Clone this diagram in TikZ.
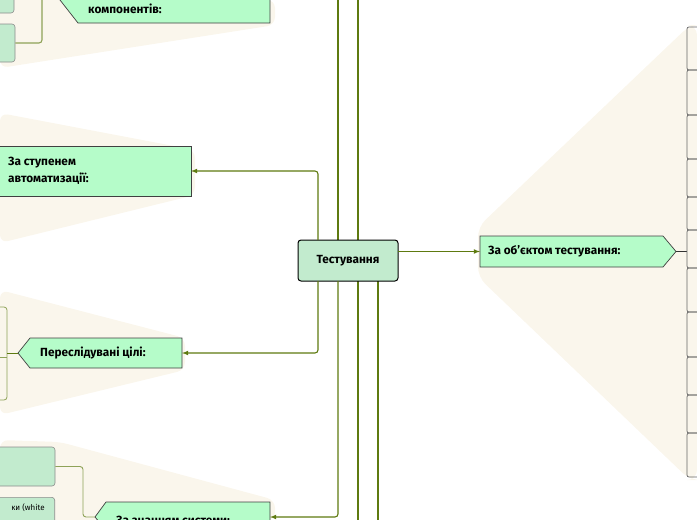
\documentclass[tikz,border=0pt]{standalone}
\usepackage{fontspec}
\setmainfont{Fira Sans}
\begin{document}
\begin{tikzpicture}[x=1pt,y=-1pt,
  conn/.style={draw=green!35!black!80!olive, line width=1.1pt, rounded corners=3pt},
  arr/.style={conn,-latex},
  sub/.style={draw=black!75, fill=grn, line width=0.7pt},
  leaf/.style={draw=black!45, fill=lgrn, rounded corners=3pt, line width=0.6pt},
  lbl/.style={font=\fontseries{sb}\fontsize{11.8}{17}\selectfont, anchor=west, align=left, inner sep=0pt}]
\definecolor{ol}{HTML}{5E7A10}
\definecolor{grn}{HTML}{B5FCC9}
\definecolor{lgrn}{HTML}{C2EBCE}
\definecolor{bg}{HTML}{FAF6EC}
\tikzset{conn/.append style={draw=ol}}
\useasboundingbox (0,0) rectangle (697,520);
% background fans
\fill[bg, rounded corners=8pt] (0,0) -- (275,0) -- (275,25) -- (0,68) -- cycle;
\fill[bg, rounded corners=8pt] (0,113) -- (195,150) -- (195,195) -- (0,243) -- cycle;
\fill[bg, rounded corners=8pt] (0,290) -- (185,338) -- (185,370) -- (0,415) -- cycle;
\fill[bg, rounded corners=8pt] (0,440) -- (60,442) -- (275,500) -- (275,520) -- (0,520) -- cycle;
\fill[bg, rounded corners=10pt] (478,227) -- (690,25) -- (697,25) -- (697,480) -- (690,480) -- (478,277) -- cycle;
% vertical lines passing up/down
\coordinate (t1) at (338,0); \coordinate (t2) at (358,0);
\coordinate (b3) at (358,520); \coordinate (b4) at (378,520);
\draw[conn] (t1) -- (338,240);
\draw[conn] (t2) -- (358,240);
\draw[conn] (358,281) -- (b3);
\draw[conn] (378,281) -- (b4);
% center
\node[draw=black, line width=1pt, fill=lgrn, rounded corners=3pt, minimum width=100pt, minimum height=41pt, font=\fontseries{sb}\fontsize{11.8}{14}\selectfont] (c) at (348,260.5) {Тестування};
% right
\path[sub] (480,236) -- (663,236) -- (676,251.5) -- (663,267) -- (480,267) -- cycle;
\node[lbl] (obj) at (488,251.5) {За об’єктом тестування:};
\coordinate (objL) at (480,251.5); \coordinate (objR) at (676,251.5);
\coordinate (cR) at (398,251.5);
\draw[arr] (cR) -- (objL);
\draw[draw=black!80, line width=1pt] (objR) -- (687,251.5);
\foreach \a/\b in {27/70,70/115,115/159,159/197,197/230,230/268,268/312,312/357,357/395,395/433,433/477}{
  \draw[draw=black!60, line width=0.7pt, rounded corners=2pt] (700,\a) -- (687,\a) -- (687,\b) -- (700,\b);
}
% top-left
\path[sub] (60,-5) -- (270,-5) -- (270,23) -- (78,23) -- (60,0) -- cycle;
\node[lbl] (komp) at (88,9) {компонентів:};
\node[leaf, minimum width=20pt, minimum height=16pt] (k1) at (4,5) {};
\node[leaf, minimum width=30pt, minimum height=38pt] (k2) at (0,43) {};
\draw[conn, draw=ol!70] (k2.east) -| (42,0);
% automation
\path[sub] (-2,146) -- (191,146) -- (191,196) -- (-2,196) -- cycle;
\node[lbl] (aut) at (8,171) {За ступенем\\автоматизації:};
\coordinate (autR) at (191,171);
\draw[arr] (318,240) |- (autR);
% goals
\path[sub] (18,353) -- (30,338) -- (182,338) -- (182,368) -- (30,368) -- cycle;
\node[lbl] (goal) at (40,353) {Переслідувані цілі:};
\coordinate (goalR) at (182,353);
\draw[arr] (318,281) |- (goalR);
\draw[draw=ol!70, line width=0.8pt, rounded corners=3pt] (-5,307) -- (7,307) -- (7,400) -- (-5,400);
\draw[draw=ol!70, line width=0.8pt] (-5,357) -- (7,357);
\draw[draw=ol, line width=0.9pt] (18,353) -- (7,353);
% knowledge
\path[sub] (95,517) -- (106,502) -- (270,502) -- (270,530) -- (106,530) -- cycle;
\node[lbl] (kn) at (116,520) {За знанням системи:};
\coordinate (knR) at (270,517);
\draw[arr] (338,281) |- (knR);
\node[leaf, minimum width=70pt, minimum height=39pt] (w1) at (20,466.5) {};
\node[leaf, minimum width=70pt, minimum height=40pt, anchor=north east] (w2) at (55,497) {};
\node[font=\fontsize{8}{9}\selectfont, anchor=north east, inner sep=0pt] at (45,504) {ки (white};
\draw[conn, draw=ol!70, line width=0.9pt] (w1.east) -| (83,517) -- (95,517);
\end{tikzpicture}
\end{document}
